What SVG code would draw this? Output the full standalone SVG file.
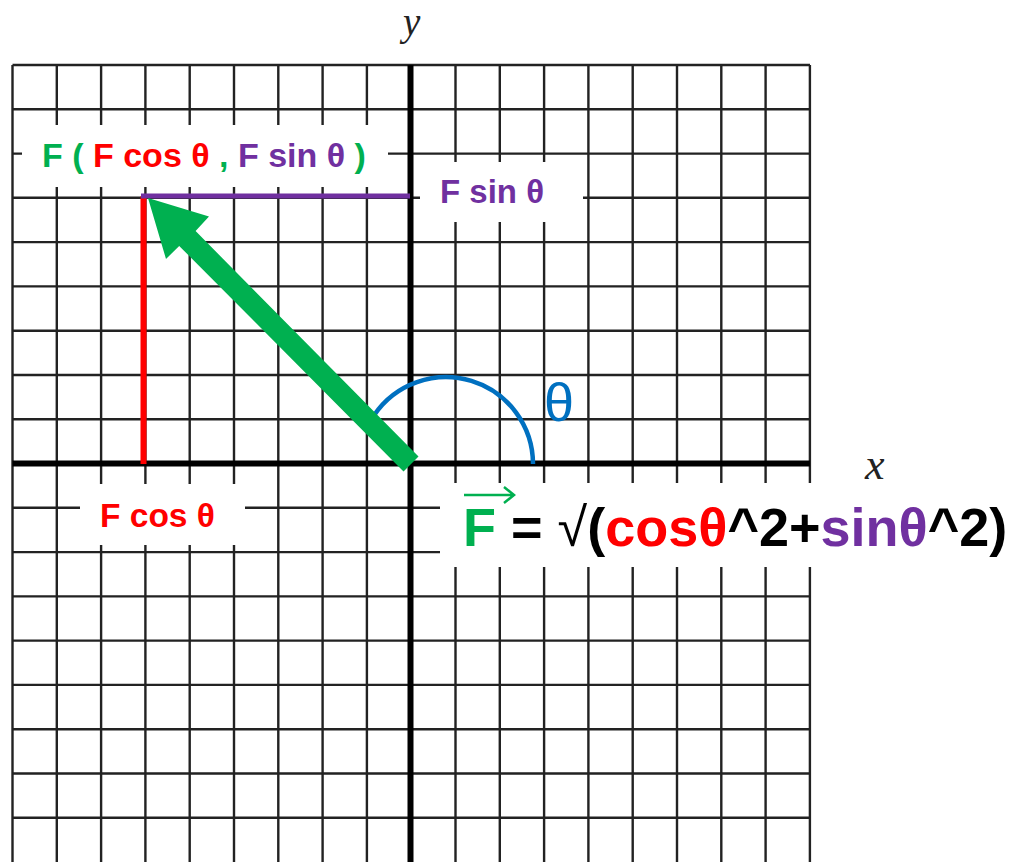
<svg xmlns="http://www.w3.org/2000/svg" width="1013" height="862" viewBox="0 0 1013 862">
<style>
.grid{stroke:#222;stroke-width:2.4;fill:none}
.axis{stroke:#000;stroke-width:6;fill:none}
.mask{fill:#fff}
.lbl{font-family:"Liberation Sans",Arial,sans-serif;font-weight:bold}
.ax{font-family:"Liberation Serif","Times New Roman",serif;font-style:italic;fill:#222}
.g{fill:#00B050}.r{fill:#FF0000}.p{fill:#7030A0}.k{fill:#000}
</style>
<rect width="1013" height="862" fill="#fff"/>
<g id="grid">
<path class="grid" d="M12.5 65V862M56.8 65V862M101.1 65V862M145.4 65V862M189.7 65V862M234 65V862M278.3 65V862M322.6 65V862M366.9 65V862M455.5 65V862M499.8 65V862M544.1 65V862M588.4 65V862M632.7 65V862M677 65V862M721.3 65V862M765.6 65V862M809.9 65V862"/>
<path class="grid" d="M12.5 65H810M12.5 109.3H810M12.5 153.6H810M12.5 197.8H810M12.5 242.1H810M12.5 286.4H810M12.5 330.7H810M12.5 375H810M12.5 419.2H810M12.5 507.8H810M12.5 552.1H810M12.5 596.4H810M12.5 640.6H810M12.5 684.9H810M12.5 729.2H810M12.5 773.5H810M12.5 817.8H810"/>
<path class="axis" d="M410.5 65V862M12.5 463.5H810"/>
</g>
<g id="masks">
<rect class="mask" x="22" y="125" width="366" height="62"/>
<rect class="mask" x="420" y="162" width="163" height="60"/>
<rect class="mask" x="80" y="484" width="165" height="61"/>
<rect class="mask" x="440" y="483" width="573" height="84"/>
</g>
<g id="axis-labels">
<text class="ax" x="403" y="35" font-size="39">y</text>
<text class="ax" x="865" y="479" font-size="44">x</text>
</g>
<g id="connectors">
<line x1="143.5" y1="196" x2="143.5" y2="464" stroke="#FF0000" stroke-width="6"/>
<line x1="141" y1="196" x2="410" y2="196" stroke="#7030A0" stroke-width="5"/>
<path d="M533 464A87 87 0 0 0 373.9 415.4" fill="none" stroke="#0070C0" stroke-width="4.5"/>
<polygon points="148,198 209,216.4 195.6,231.1 418.5,456.6 403.5,471.4 179.2,245.9 166,259" fill="#00B050"/>
</g>
<g id="point-label">
<text class="lbl" x="42" y="167" font-size="34"><tspan class="g">F ( </tspan><tspan class="r">F cos θ</tspan><tspan class="g"> , </tspan><tspan class="p">F sin θ</tspan><tspan class="g"> )</tspan></text>
</g>
<g id="fsin-label">
<text class="lbl p" x="440" y="203" font-size="33">F sin θ</text>
</g>
<g id="fcos-label">
<text class="lbl r" x="100" y="527" font-size="33.5">F cos θ</text>
</g>
<g id="theta-label">
<text x="544" y="421" font-size="54" fill="#0070C0" font-family="Liberation Sans, Arial, sans-serif">θ</text>
</g>
<g id="formula">
<text class="lbl" x="463" y="546" font-size="54"><tspan class="g">F</tspan><tspan class="k"> = </tspan><tspan class="k" font-weight="normal">√</tspan><tspan class="k">(</tspan><tspan class="r">cosθ</tspan><tspan class="k">^2+</tspan><tspan class="p">sinθ</tspan><tspan class="k">^2)</tspan></text>
<path d="M464 495H514M504 487L514 495L504 503" fill="none" stroke="#00B050" stroke-width="2.5"/>
</g>
</svg>
